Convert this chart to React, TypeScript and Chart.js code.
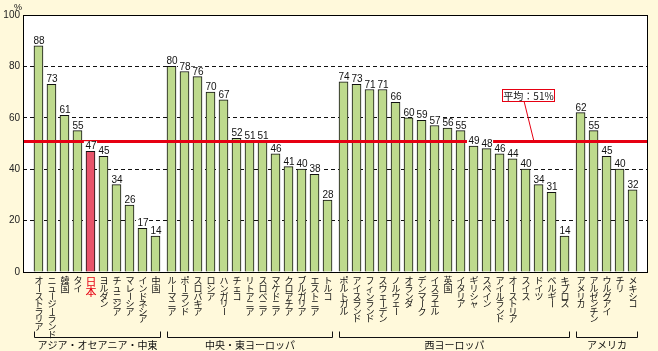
import React, { useEffect, useRef } from "react";
import { Chart, registerables } from "chart.js";

Chart.register(...registerables);

const asiaLabels = ["オーストラリア", "ニュージーランド", "韓国", "タイ", "日本", "ヨルダン", "チュニジア", "マレーシア", "インドネシア", "中国"];
const asiaValues = [88, 73, 61, 55, 47, 45, 34, 26, 17, 14];
const ceLabels = ["ルーマニア", "ポーランド", "スロバキア", "ロシア", "ハンガリー", "チェコ", "リトアニア", "スロベニア", "マケドニア", "クロアチア", "ブルガリア", "エストニア", "トルコ"];
const ceValues = [80, 78, 76, 70, 67, 52, 51, 51, 46, 41, 40, 38, 28];
const weLabels = ["ポルトガル", "アイスランド", "フィンランド", "スウェーデン", "ノルウェー", "オランダ", "デンマーク", "イスラエル", "英国", "イタリア", "ギリシャ", "スペイン", "アイルランド", "オーストリア", "スイス", "ドイツ", "ベルギー", "キプロス"];
const weValues = [74, 73, 71, 71, 66, 60, 59, 57, 56, 55, 49, 48, 46, 44, 40, 34, 31, 14];
const amLabels = ["アメリカ", "アルゼンチン", "ウルグアイ", "チリ", "メキシコ"];
const amValues = [62, 55, 45, 40, 32];
const groupNames = ["アジア・オセアニア・中東", "中央・東ヨーロッパ", "西ヨーロッパ", "アメリカ"];
const yTicks = [0, 20, 40, 60, 80, 100];
const average = 51;
const averageLabel = "平均：51%";
const highlight = "日本";

const groups = [
  { labels: asiaLabels, values: asiaValues },
  { labels: ceLabels, values: ceValues },
  { labels: weLabels, values: weValues },
  { labels: amLabels, values: amValues },
];

const GAP = 3 / 13;
const JP = '"Noto Sans CJK JP", sans-serif';
const NUM = '"Liberation Sans", Arial, sans-serif';

type Item = { label: string; value: number; x: number; group: number };
const items: Item[] = [];
{
  let gi = 0;
  groups.forEach((g, k) => {
    g.labels.forEach((l, i) => {
      items.push({ label: l, value: g.values[i], x: gi + k * GAP, group: k });
      gi++;
    });
  });
}

const GREEN = "#BEDA8D";
const PINK = "#E8546B";
const RED = "#E60012";
const CREAM = "#FFF9DB";

const overlay = {
  id: "overlay",
  beforeDraw(chart: any) {
    const { ctx, chartArea: a, width, height } = chart;
    ctx.save();
    ctx.fillStyle = CREAM;
    ctx.fillRect(0, 0, width, height);
    ctx.fillStyle = "#fff";
    ctx.fillRect(a.left, a.top, a.right - a.left, a.bottom - a.top);
    ctx.restore();
  },
  afterDatasetsDraw(chart: any) {
    const { ctx, chartArea: a } = chart;
    const xs = chart.scales.x;
    const ys = chart.scales.y;
    ctx.save();
    // average line
    const yAvg = Math.round(ys.getPixelForValue(average)) + 0.5;
    ctx.strokeStyle = RED;
    ctx.lineWidth = 3;
    ctx.beginPath();
    ctx.moveTo(a.left, yAvg);
    ctx.lineTo(a.right, yAvg);
    ctx.stroke();

    // border
    ctx.strokeStyle = "#000";
    ctx.lineWidth = 1;
    ctx.strokeRect(Math.round(a.left) + 0.5, Math.round(a.top) + 0.5, Math.round(a.right - a.left) - 1, Math.round(a.bottom - a.top));

    // value labels
    ctx.font = `10px ${NUM}`;
    ctx.textAlign = "center";
    ctx.textBaseline = "alphabetic";
    items.forEach((it) => {
      const px = xs.getPixelForValue(it.x);
      const py = ys.getPixelForValue(it.value);
      const t = String(it.value);
      const w = ctx.measureText(t).width;
      ctx.fillStyle = "#fff";
      ctx.fillRect(px - w / 2 - 1, py - 10, w + 2, 8);
      ctx.fillStyle = "#111";
      ctx.fillText(t, px + 0.5, py - 2);
    });

    // annotation
    const bx = 502, by = 89, bw = 52, bh = 12;
    ctx.strokeStyle = RED;
    ctx.lineWidth = 1;
    ctx.beginPath();
    ctx.moveTo(524, by + bh);
    ctx.lineTo(534, yAvg);
    ctx.stroke();
    ctx.fillStyle = "#fff";
    ctx.fillRect(bx, by, bw, bh);
    ctx.strokeRect(bx + 0.5, by + 0.5, bw, bh);
    ctx.fillStyle = "#111";
    ctx.font = `10px ${JP}`;
    ctx.textBaseline = "middle";
    ctx.fillText(averageLabel, bx + bw / 2 + 0.5, by + bh / 2 + 1);

    // % unit
    ctx.font = `9px ${NUM}`;
    ctx.textAlign = "center";
    ctx.fillText("%", 18, 8);

    // vertical category labels
    const step = 7.6;
    ctx.textAlign = "center";
    ctx.textBaseline = "middle";
    items.forEach((it) => {
      const px = xs.getPixelForValue(it.x) + 0.5;
      const isH = it.label === highlight;
      ctx.fillStyle = isH ? RED : "#111";
      const size = isH ? 11 : 9;
      const st = isH ? 10 : step;
      ctx.font = `${size}px ${JP}`;
      Array.from(it.label).forEach((ch, i) => {
        const cy = a.bottom + (isH ? 10 : 9) + i * st;
        if (ch === "ー") {
          ctx.save();
          ctx.translate(px, cy);
          ctx.rotate(Math.PI / 2);
          ctx.fillText(ch, 0, 0);
          ctx.restore();
        } else {
          ctx.fillText(ch, px, cy);
        }
      });
    });

    // group brackets
    const half = 4.5;
    ctx.strokeStyle = "#111";
    ctx.lineWidth = 1;
    ctx.font = `10px ${JP}`;
    ctx.fillStyle = "#111";
    groupNames.forEach((name, k) => {
      const gItems = items.filter((it) => it.group === k);
      const x0 = Math.round(xs.getPixelForValue(gItems[0].x) - half) + 0.5;
      const x1 = Math.round(xs.getPixelForValue(gItems[gItems.length - 1].x) + half) + 0.5;
      const yb = 337.5;
      ctx.beginPath();
      ctx.moveTo(x0, yb - 6);
      ctx.lineTo(x0, yb);
      ctx.lineTo(x1, yb);
      ctx.lineTo(x1, yb - 6);
      ctx.stroke();
      ctx.fillText(name, (x0 + x1) / 2, 345);
    });
    ctx.restore();
  },
};

export default function App() {
  const ref = useRef<HTMLCanvasElement>(null);
  useEffect(() => {
    document.body.style.margin = "0";
    document.body.style.background = CREAM;
    const chart = new Chart(ref.current!, {
      type: "bar",
      data: {
        datasets: [
          {
            data: items.map((it) => ({ x: it.x, y: it.value })),
            backgroundColor: items.map((it) => (it.label === highlight ? PINK : GREEN)),
            borderColor: "#111",
            borderWidth: 1,
            barThickness: 9,
          } as any,
        ],
      },
      options: {
        responsive: false,
        animation: false,
        layout: { padding: { left: 0, top: 15, right: 10, bottom: 79 } },
        plugins: { legend: { display: false }, tooltip: { enabled: false } },
        scales: {
          x: {
            type: "linear",
            min: -1.19,
            max: 46.88,
            offset: false,
            display: false,
          },
          y: {
            min: 0,
            max: 100,
            afterFit: (s: any) => {
              s.width = 23;
            },
            afterBuildTicks: (s: any) => {
              s.ticks = yTicks.map((v) => ({ value: v }));
            },
            ticks: {
              font: { size: 10, family: NUM },
              color: "#222",
              padding: 3,
            },
            border: { display: false, dash: [4, 3] },
            grid: {
              drawTicks: false,
              color: (c: any) => (c.tick && (c.tick.value === 0 || c.tick.value === 100) ? "rgba(0,0,0,0)" : "#111"),
              lineWidth: 1,
            },
          },
        },
      },
      plugins: [overlay],
    });
    return () => chart.destroy();
  }, []);
  return (
    <div style={{ width: 658, height: 351 }}>
      <canvas ref={ref} width={658} height={351} style={{ display: "block" }} />
    </div>
  );
}
